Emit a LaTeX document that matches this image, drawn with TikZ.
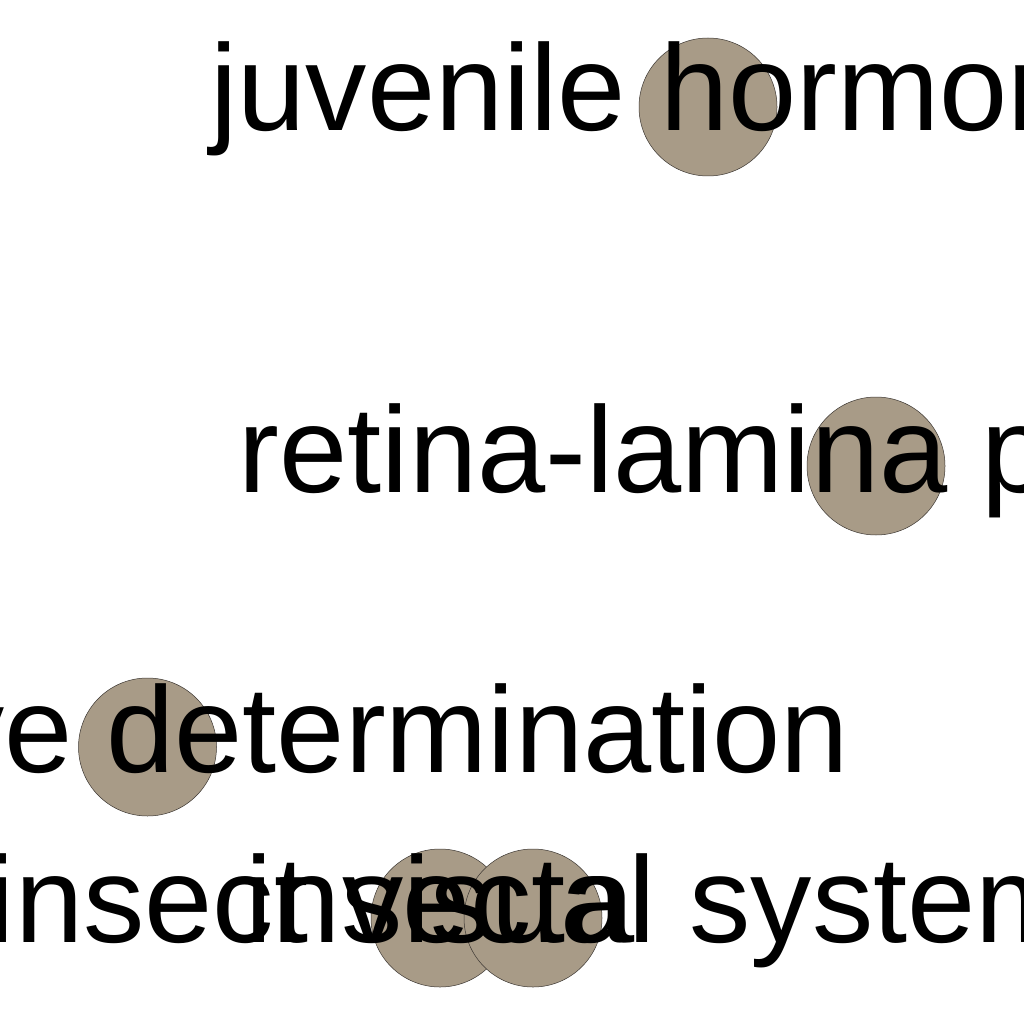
\documentclass[tikz,border=0pt]{standalone}
\usepackage{fontspec}
\setmainfont{Liberation Sans}
\definecolor{blobfill}{RGB}{168,155,135}
\definecolor{blobline}{RGB}{60,55,50}
\tikzset{
  blob/.style={circle, draw=blobline, line width=0.5pt, fill=blobfill, minimum size=138pt, inner sep=0pt},
  term/.style={anchor=base, inner sep=0pt, text=black, font=\fontsize{122.6}{130}\selectfont}
}
\begin{document}
\begin{tikzpicture}[x=1pt,y=-1pt]
\useasboundingbox (0,0) rectangle (1024,1024);
\fill[white] (0,0) rectangle (1024,1024);
\begin{scope}
\clip (0,0) rectangle (1024,1024);
% circles
\node[blob] (c1) at (708,107) {};
\node[blob] (c2) at (876,466) {};
\node[blob] (c3) at (147.5,747) {};
\node[blob] (c4) at (440,918) {};
\node[blob] (c5) at (533,918) {};
% labels
\node[term] (t1) at (708,131) {juvenile hormones};
\node[term] (t2) at (876,492) {retina-lamina projection};
\node[term] (t3) at (147.5,772) {quantitative determination};
\node[term] (t4) at (440,942) {insecta};
\node[term] (t5) at (533,942) {insect visual system};
\end{scope}
\end{tikzpicture}
\end{document}
